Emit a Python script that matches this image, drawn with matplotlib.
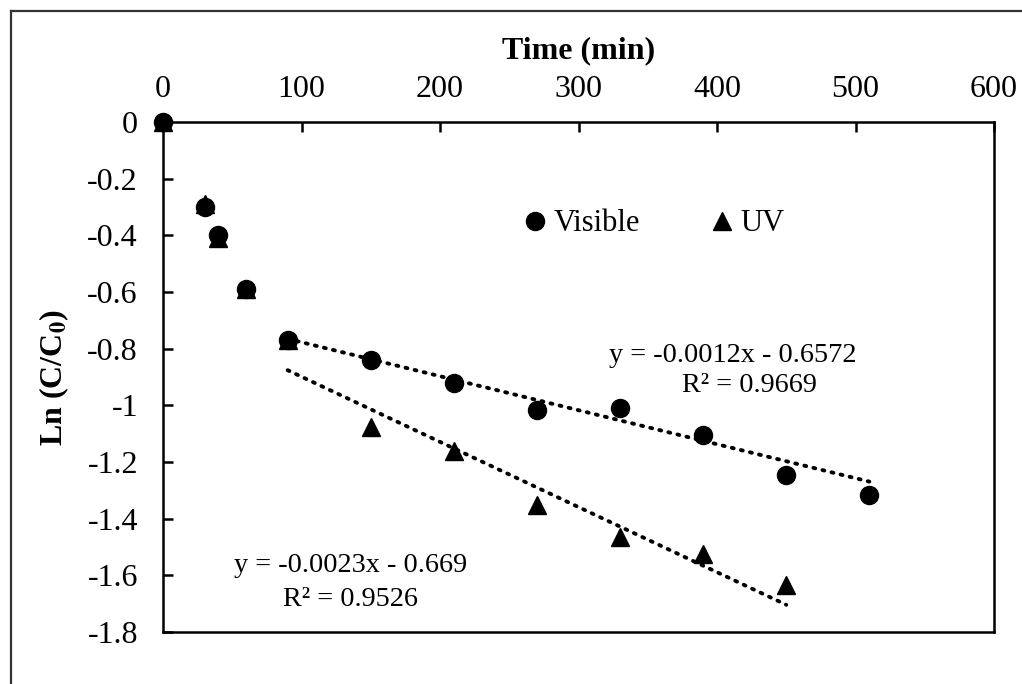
import numpy as np
import matplotlib
matplotlib.use('Agg')
import matplotlib.pyplot as plt
import matplotlib.ticker as ticker
from matplotlib.lines import Line2D

plt.rcParams['font.family'] = ['Liberation Serif', 'DejaVu Serif']
plt.rcParams['mathtext.fontset'] = 'stix'
plt.rcParams['axes.unicode_minus'] = False

# data
time_min = [0, 30, 40, 60, 90, 150, 210, 270, 330, 390, 450, 510]
ln_visible = [0, -0.30, -0.40, -0.59, -0.77, -0.84, -0.92, -1.015, -1.01, -1.105, -1.245, -1.315]
time_uv = [0, 30, 40, 60, 90, 150, 210, 270, 330, 390, 450]
ln_uv = [0, -0.29, -0.41, -0.59, -0.77, -1.075, -1.16, -1.35, -1.465, -1.525, -1.635]

# linear trendlines as printed on the chart
fit_visible = (-0.0012, -0.6572, 0.9669, 90, 510)
fit_uv = (-0.0023, -0.669, 0.9526, 90, 450)

W, H = 1022, 684
fig = plt.figure(figsize=(W / 100, H / 100), dpi=100)
ax = fig.add_axes([163 / W, 1 - 632 / H, (994 - 163) / W, (632 - 122) / H])

ax.plot(time_min, ln_visible, 'o', color='black', markersize=13, label='Visible',
        zorder=3, clip_on=False)
ax.plot(time_uv, ln_uv, '^', color='black', markersize=13, label='UV',
        zorder=3, clip_on=False)

for slope, icpt, r2, x0, x1 in (fit_visible, fit_uv):
    xs = np.array([x0, x1])
    ax.plot(xs, slope * xs + icpt, color='black', lw=2.8,
            linestyle=(0, (0.5, 1.9)), dash_capstyle='round', zorder=2)

ax.set_xlim(0, 600)
ax.set_ylim(-1.8, 0)
ax.xaxis.set_major_locator(ticker.MultipleLocator(100))
ax.yaxis.set_major_locator(ticker.MultipleLocator(0.2))
ax.yaxis.set_major_formatter(ticker.FuncFormatter(lambda v, p: f'{v:g}' if abs(v) > 1e-9 else '0'))
ax.xaxis.tick_top()
ax.xaxis.set_label_position('top')
ax.tick_params(axis='x', direction='in', length=7, width=1.8, labelsize=23, pad=13,
               top=True, bottom=False)
ax.tick_params(axis='y', direction='in', length=7, width=1.8, labelsize=23, pad=18)
for s in ax.spines.values():
    s.set_linewidth(1.8)

ax.set_xlabel('Time (min)', fontsize=23, fontweight='bold', labelpad=12)
ax.set_ylabel(r'Ln (C/C$_{\mathbf{0}}$)', fontsize=23, fontweight='bold', labelpad=12)

ax.legend(loc='center', bbox_to_anchor=(0.587, 0.80), ncol=2, frameon=False,
          fontsize=22, handletextpad=0.0, columnspacing=2.1, markerscale=1.0,
          handlelength=1.2)

ax.text(0.686, 0.543, 'y = -0.0012x - 0.6572', transform=ax.transAxes,
        fontsize=20.3, ha='center', va='center')
ax.text(0.706, 0.484, 'R² = 0.9669', transform=ax.transAxes,
        fontsize=20.3, ha='center', va='center')
ax.text(0.226, 0.131, 'y = -0.0023x - 0.669', transform=ax.transAxes,
        fontsize=20.3, ha='center', va='center')
ax.text(0.226, 0.063, 'R² = 0.9526', transform=ax.transAxes,
        fontsize=20.3, ha='center', va='center')

# outer chart border (only top and left are visible in the crop)
bx, by = 10.5 / W, 1 - 10.5 / H
fig.add_artist(Line2D([bx, 1.0], [by, by], transform=fig.transFigure,
                      color='#333333', lw=1.6))
fig.add_artist(Line2D([bx, bx], [0.0, by], transform=fig.transFigure,
                      color='#333333', lw=1.6))

fig.savefig('out.png', dpi=100)
